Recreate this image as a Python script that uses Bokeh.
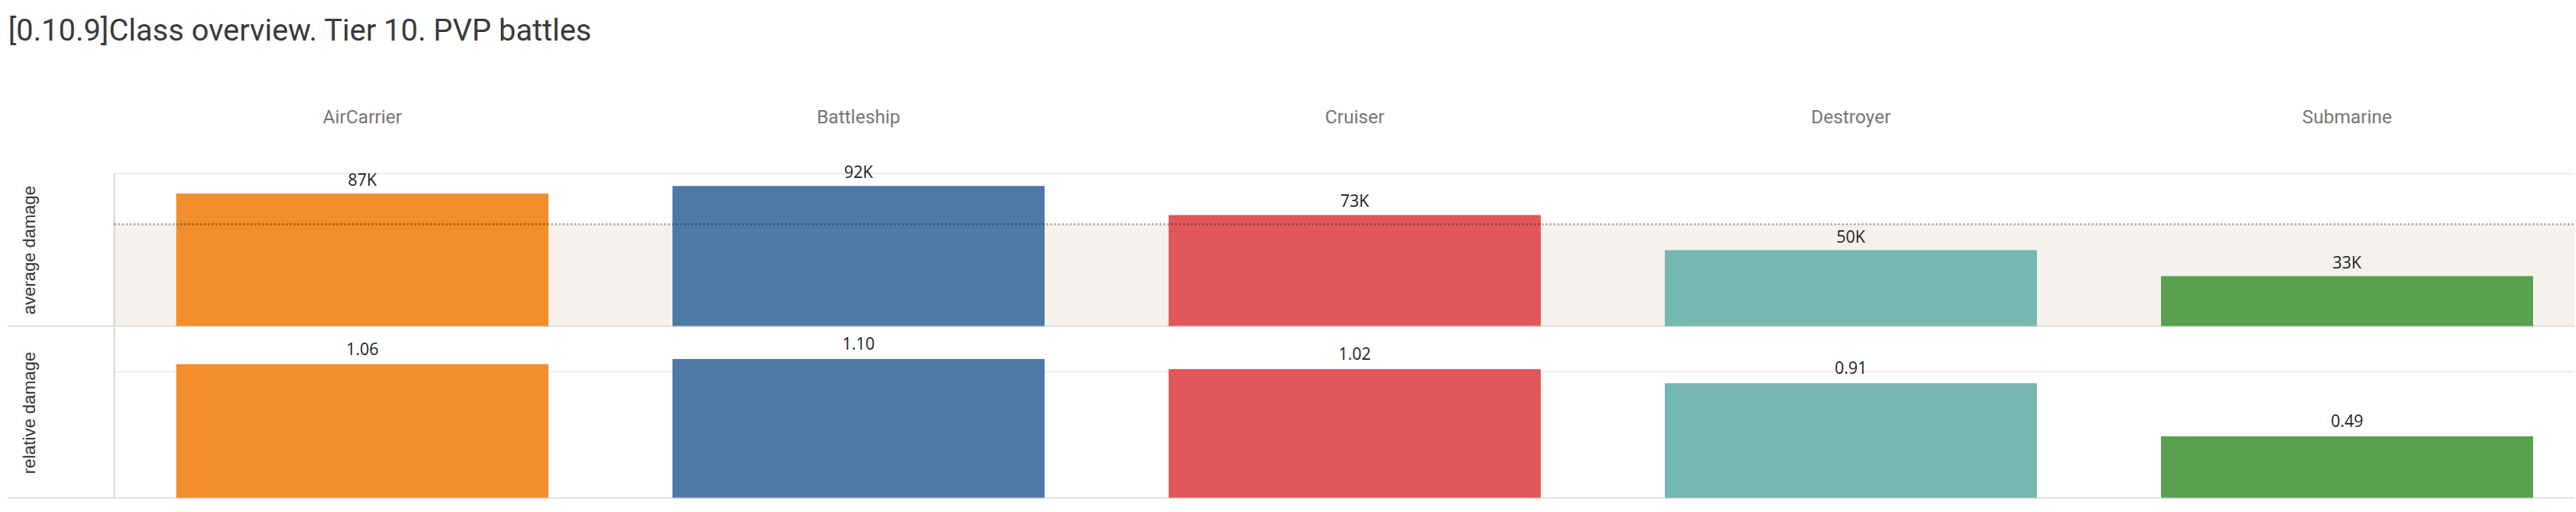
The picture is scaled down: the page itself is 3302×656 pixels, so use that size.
import math
from bokeh.plotting import figure
from bokeh.layouts import column
from bokeh.models import (Range1d, FixedTicker, Span, BoxAnnotation, LabelSet,
                          ColumnDataSource)
from bokeh.embed import file_html
from bokeh.resources import INLINE
from bokeh.core.properties import value

# ---------------- data ----------------
TITLE = "[0.10.9]Class overview. Tier 10. PVP battles"
classes = ["AirCarrier", "Battleship", "Cruiser", "Destroyer", "Submarine"]
avg_damage = [87000, 92000, 73000, 50000, 33000]
rel_damage = [1.06, 1.10, 1.02, 0.91, 0.49]
colors = ["#F28E2B", "#4E79A7", "#E15759", "#76B7B2", "#59A14F"]
row_labels = ["average damage", "relative damage"]

# ---------------- layout constants ----------------
W = 3300
LEFT = 9
PX_PER_CAT = 636.0
LEFT_PAD_PX = 137.0
FRAME_W = W - LEFT
x_start = -0.5 - LEFT_PAD_PX / PX_PER_CAT
x_end = x_start + FRAME_W / PX_PER_CAT

H0 = 100                 # title strip
TITLE_BASELINE_FROM_TOP = 38
AVG_TOP = 100000         # upper axis max (gridline)
PX_PER_AVG = 196 / AVG_TOP
UPPER_FRAME_H = 218
upper_end = UPPER_FRAME_H / PX_PER_AVG
REL_END = 1.35

idx = list(range(len(classes)))
mean_avg = sum(avg_damage) / len(avg_damage)

src = ColumnDataSource(dict(
    x=idx,
    avg=avg_damage,
    rel=rel_damage,
    color=colors,
    avg_label=[f"{round(v / 1000)}K" for v in avg_damage],
    rel_label=[f"{v:.2f}" for v in rel_damage],
))

LABEL_FONT = value("Open Sans")
AXIS_GRAY = "#d4d4d4"
SEP_GRAY = "#cccccc"
GRID_GRAY = "#eeeeee"

xr = Range1d(x_start, x_end)


def style(p):
    p.grid.visible = False
    p.outline_line_color = None
    p.background_fill_color = "white"
    p.border_fill_color = "white"


# ---------------- title strip ----------------
p0 = figure(width=W, height=H0, x_range=xr, y_range=Range1d(0, H0),
            x_axis_location=None, y_axis_location=None, output_backend="svg",
            toolbar_location=None, min_border_left=LEFT, min_border_right=0,
            min_border_top=0, min_border_bottom=0)
style(p0)
p0.text(x=[x_start], y=[H0 - TITLE_BASELINE_FROM_TOP], text=[TITLE],
        x_offset=1, text_align="left", text_baseline="alphabetic",
        text_font=value("Roboto"), text_font_size="39px",
        text_color="#3a3a3a")

# ---------------- upper panel ----------------
p1 = figure(width=W, height=100 + UPPER_FRAME_H + 1, x_range=xr,
            y_range=Range1d(0, upper_end), x_axis_location="above",
            y_axis_location=None, output_backend="svg", toolbar_location=None,
            min_border_left=LEFT, min_border_right=0, min_border_top=100,
            min_border_bottom=1)
style(p1)

ax = p1.xaxis[0]
ax.ticker = FixedTicker(ticks=idx)
ax.major_label_overrides = {i: c for i, c in zip(idx, classes)}
ax.axis_line_color = None
ax.major_tick_line_color = None
ax.minor_tick_line_color = None
ax.major_label_text_font = "Roboto"
ax.major_label_text_font_size = "24px"
ax.major_label_text_color = "#767676"
ax.major_label_standoff = 31

p1.add_layout(BoxAnnotation(left=-0.5, bottom=0, top=mean_avg,
                            fill_color="#f5f1ed", fill_alpha=1,
                            line_color=None, level="underlay"))
p1.segment(x0=-0.5, y0=AVG_TOP, x1=x_end, y1=AVG_TOP, line_color=GRID_GRAY,
           line_width=2)
p1.segment(x0=-0.5, y0=0, x1=-0.5, y1=AVG_TOP, line_color=AXIS_GRAY,
           line_width=2)
p1.vbar(x="x", top="avg", width=0.75, color="color", line_color=None,
        source=src)
p1.segment(x0=-0.5, y0=mean_avg, x1=x_end, y1=mean_avg, line_color="black",
           line_alpha=0.38, line_width=2.5, line_dash="2 3")
p1.add_layout(LabelSet(x="x", y="avg", text="avg_label", source=src,
                       text_align="center", text_baseline="alphabetic",
                       y_offset=10, text_font=LABEL_FONT,
                       text_font_size="21px", text_color="#1e1e1e"))
p1.text(x=[-0.5], y=[AVG_TOP / 2], text=[row_labels[0]], angle=math.pi / 2,
        x_offset=-109, text_align="center", text_baseline="middle",
        text_font=value("Liberation Sans"), text_font_size="22px",
        text_color="#333333")
p1.add_layout(Span(location=0, dimension="width", line_color=SEP_GRAY,
                   line_width=2))

# ---------------- lower panel ----------------
p2 = figure(width=W, height=231, x_range=xr, y_range=Range1d(0, REL_END),
            x_axis_location=None, y_axis_location=None, output_backend="svg",
            toolbar_location=None, min_border_left=LEFT, min_border_right=0,
            min_border_top=0, min_border_bottom=12)
style(p2)
p2.segment(x0=-0.5, y0=1.0, x1=x_end, y1=1.0, line_color=GRID_GRAY,
           line_width=2)
p2.vbar(x="x", top="rel", width=0.75, color="color", line_color=None,
        source=src)
p2.add_layout(LabelSet(x="x", y="rel", text="rel_label", source=src,
                       text_align="center", text_baseline="alphabetic",
                       y_offset=12, text_font=LABEL_FONT,
                       text_font_size="21px", text_color="#1e1e1e"))
p2.text(x=[-0.5], y=[REL_END / 2], text=[row_labels[1]], angle=math.pi / 2,
        x_offset=-109, text_align="center", text_baseline="middle",
        text_font=value("Liberation Sans"), text_font_size="22px",
        text_color="#333333")
p2.add_layout(Span(location=-0.5, dimension="height", line_color=AXIS_GRAY,
                   line_width=2))
p2.add_layout(Span(location=0, dimension="width", line_color=SEP_GRAY,
                   line_width=2))

layout = column(p0, p1, p2, spacing=0)
open("out.html", "w").write(file_html(layout, INLINE))
